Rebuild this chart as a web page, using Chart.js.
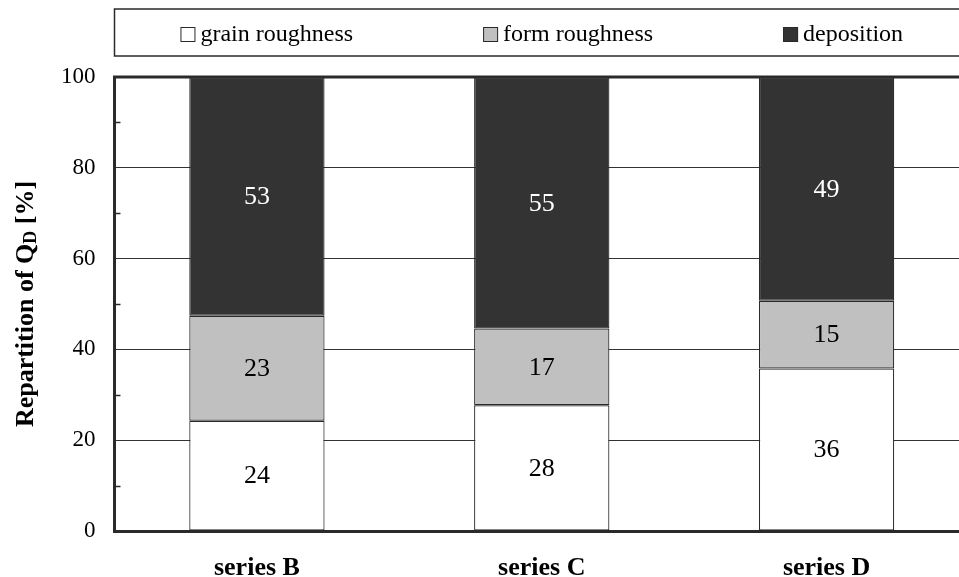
<!DOCTYPE html>
<html>
<head>
<meta charset="utf-8">
<script src="https://cdn.jsdelivr.net/npm/chart.js@4"></script>
<style>
  html, body { margin: 0; padding: 0; background: #fff; overflow: hidden; }
  #wrap { position: relative; width: 970px; height: 577px; }
</style>
</head>
<body>
<div id="wrap"><canvas id="repartition"></canvas></div>
<script>
// categories and shares of Q_D (percent)
const categories = ['series B', 'series C', 'series D'];
const grainRoughness = [24.3, 27.7, 35.8];
const formRoughness = [23.1, 16.9, 14.9];
const deposition = [52.6, 55.4, 49.3];
const yTicks = [0, 20, 40, 60, 80, 100];

const serif = "'Liberation Serif', 'Times New Roman', serif";
const ink = '#2a2a2a';

// legend in a frame, drawn by hand so the spacing matches
const framedLegend = {
  id: 'framedLegend',
  afterDraw(chart) {
    const c = chart.ctx, area = chart.chartArea;
    const top = 9, bottom = 56, midY = 34.5, box = 15, gap = 5, spacing = 130;
    c.save();
    c.strokeStyle = ink;
    c.lineWidth = 1.5;
    c.strokeRect(area.left, top, area.right + 10 - area.left, bottom - top);
    c.font = '24px ' + serif;
    c.textBaseline = 'middle';
    const items = chart.data.datasets.map(ds => ({
      text: ds.label, color: ds.backgroundColor,
      w: box + gap + c.measureText(ds.label).width
    }));
    const total = items.reduce((s, it) => s + it.w, 0) + spacing * (items.length - 1);
    let x = (area.left + area.right) / 2 - total / 2;
    items.forEach(it => {
      c.fillStyle = it.color;
      c.fillRect(x, midY - box / 2, box, box);
      c.lineWidth = 1;
      c.strokeStyle = ink;
      c.strokeRect(x + 0.5, midY - box / 2 + 0.5, box - 1, box - 1);
      c.fillStyle = '#000';
      c.fillText(it.text, x + box + gap, midY);
      x += it.w + spacing;
    });
    c.restore();
  }
};

// top frame line, inner minor ticks, value labels, y title with subscript
const decorations = {
  id: 'decorations',
  afterDatasetsDraw(chart) {
    const c = chart.ctx, area = chart.chartArea, y = chart.scales.y;
    c.save();
    c.strokeStyle = ink;
    c.lineWidth = 3;
    c.beginPath();
    c.moveTo(area.left - 1.5, area.top);
    c.lineTo(area.right + 5, area.top);
    c.stroke();

    c.lineWidth = 1.5;
    for (let v = 10; v < 100; v += 20) {
      const py = Math.round(y.getPixelForValue(v)) + 0.5;
      c.beginPath();
      c.moveTo(area.left, py);
      c.lineTo(area.left + 6, py);
      c.stroke();
    }

    c.font = '26px ' + serif;
    c.textAlign = 'center';
    c.textBaseline = 'middle';
    chart.data.datasets.forEach((ds, i) => {
      chart.getDatasetMeta(i).data.forEach((bar, j) => {
        c.fillStyle = ds.labelColor;
        c.fillText(Math.round(ds.data[j]), bar.x, (bar.y + bar.base) / 2 + 1);
      });
    });

    // "Repartition of Q_D [%]"
    c.translate(26, (area.top + area.bottom) / 2);
    c.rotate(-Math.PI / 2);
    const big = 'bold 26px ' + serif, small = 'bold 18px ' + serif;
    const parts = [['Repartition of Q', big, 0], ['D', small, 5], [' [%]', big, 0]];
    let w = 0;
    parts.forEach(p => { c.font = p[1]; w += c.measureText(p[0]).width; });
    let x = -w / 2;
    c.textAlign = 'left';
    c.fillStyle = '#000';
    parts.forEach(p => {
      c.font = p[1];
      c.fillText(p[0], x, p[2]);
      x += c.measureText(p[0]).width;
    });
    c.restore();
  }
};

const ctx = document.getElementById('repartition').getContext('2d');
const chart = new Chart(ctx, {
  type: 'bar',
  plugins: [framedLegend, decorations],
  data: {
    labels: categories,
    datasets: [
      { label: 'grain roughness', data: grainRoughness, backgroundColor: '#ffffff', labelColor: '#000000' },
      { label: 'form roughness', data: formRoughness, backgroundColor: '#c0c0c0', labelColor: '#000000' },
      { label: 'deposition', data: deposition, backgroundColor: '#333333', labelColor: '#ffffff' }
    ].map(ds => Object.assign(ds, { borderColor: ink, borderWidth: 1.2, borderSkipped: false }))
  },
  options: {
    responsive: true,
    maintainAspectRatio: false,
    animation: false,
    layout: { padding: { top: 77, left: 42, right: 1, bottom: -20 } },
    datasets: { bar: { categoryPercentage: 1, barPercentage: 0.475 } },
    plugins: {
      legend: { display: false },
      tooltip: { enabled: false }
    },
    scales: {
      x: {
        stacked: true,
        grid: { display: false },
        border: { display: true, color: ink, width: 3 },
        ticks: { color: '#000', padding: 16, font: { family: serif, size: 26, weight: 'bold', lineHeight: 1 } }
      },
      y: {
        stacked: true,
        min: 0,
        max: 100,
        afterBuildTicks: scale => { scale.ticks = yTicks.map(v => ({ value: v })); },
        grid: { color: '#333333', lineWidth: 1, drawTicks: false },
        border: { display: true, color: ink, width: 3 },
        ticks: { color: '#000', padding: 19, font: { family: serif, size: 23 } }
      }
    }
  }
});
</script>
</body>
</html>
